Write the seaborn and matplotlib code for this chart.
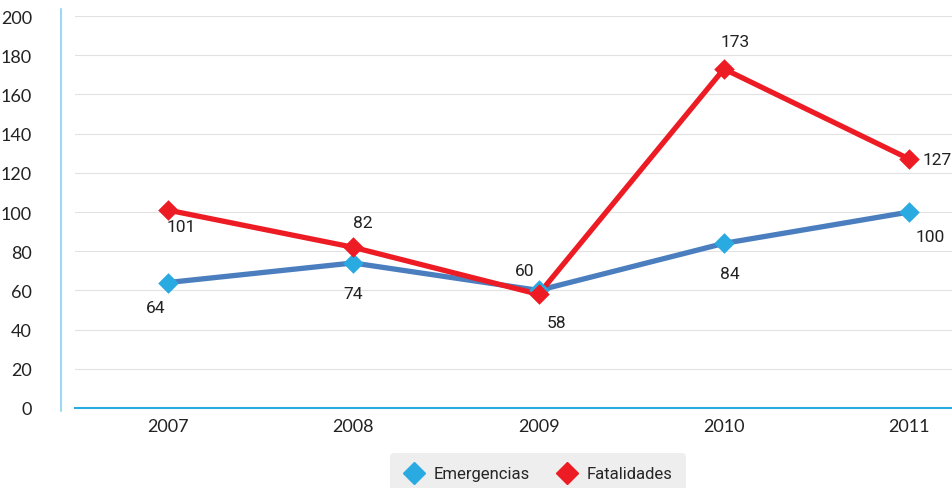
import pandas as pd
import matplotlib.pyplot as plt
import seaborn as sns
from matplotlib.lines import Line2D

years = ['2007', '2008', '2009', '2010', '2011']
emergencias = [64, 74, 60, 84, 100]
fatalidades = [101, 82, 58, 173, 127]

# label offsets (points) for each value
emer_offsets = [(-9, -18), (0, -22), (-10, 14), (4, -22), (15, -18)]
fatal_offsets = [(10, -12), (7, 18), (13, -20), (8, 20), (20, 0)]

sns.set_style("white")
plt.rcParams['font.family'] = ['Lato', 'DejaVu Sans']
narrow = ['Roboto', 'DejaVu Sans']

df = pd.DataFrame({'year': list(range(len(years))) * 2,
                   'value': emergencias + fatalidades,
                   'serie': ['Emergencias'] * 5 + ['Fatalidades'] * 5})

fig = plt.figure(figsize=(9.52, 4.89), dpi=100)
ax = fig.add_axes([75 / 952, 1 - 409 / 489, 1 - 75 / 952, (409 - 17) / 489])

sns.lineplot(data=df, x='year', y='value', hue='serie',
             palette={'Emergencias': '#4a7ebf', 'Fatalidades': '#ed1c24'},
             linewidth=3.8, legend=False, ax=ax, zorder=3)
ax.scatter(range(5), emergencias, marker='D', s=110, color='#29abe2', zorder=4, linewidths=0)
ax.scatter(range(5), fatalidades, marker='D', s=110, color='#ed1c24', zorder=5, linewidths=0)

for i, v in enumerate(emergencias):
    ax.annotate(str(v), (i, v), xytext=emer_offsets[i], textcoords='offset points',
                ha='center', va='center', fontsize=12.5, color='#222222', family=narrow)
for i, v in enumerate(fatalidades):
    ax.annotate(str(v), (i, v), xytext=fatal_offsets[i], textcoords='offset points',
                ha='center', va='center', fontsize=12.5, color='#222222', family=narrow,
                annotation_clip=False)

ax.set_xlim(-0.5, 4.23)
ax.set_ylim(0, 200)
ax.set_yticks(range(0, 201, 20))
ax.set_xticks(range(5))
ax.set_xticklabels(years)
ax.yaxis.grid(True, color='#e2e2e2', linewidth=0.8)
ax.set_xlabel('')
ax.set_ylabel('')
ax.tick_params(axis='both', length=0, labelsize=13, colors='#222222')
ax.tick_params(axis='y', pad=31)
ax.tick_params(axis='x', pad=7)
for s in ['top', 'right', 'left']:
    ax.spines[s].set_visible(False)
ax.spines['bottom'].set_color('#29abe2')
ax.spines['bottom'].set_linewidth(1.5)

# thin light-blue vertical axis line
fig.add_artist(Line2D([61 / 952, 61 / 952], [1 - 412 / 489, 1 - 10 / 489],
                      color='#9fd8f2', linewidth=1.5, transform=fig.transFigure))

handles = [Line2D([], [], marker='D', linestyle='none', markersize=11, color='#29abe2'),
           Line2D([], [], marker='D', linestyle='none', markersize=11, color='#ed1c24')]
leg = fig.legend(handles, ['Emergencias', 'Fatalidades'], loc='center',
                 bbox_to_anchor=(538 / 952, 1 - 475 / 489), ncol=2, frameon=True, fancybox=True,
                 facecolor='#eeeeee', edgecolor='none', framealpha=1,
                 prop={'family': narrow, 'size': 12}, handletextpad=0.5, columnspacing=1.6,
                 borderpad=0.8, handlelength=1.3, borderaxespad=0)

fig.savefig('out.png', dpi=100)
